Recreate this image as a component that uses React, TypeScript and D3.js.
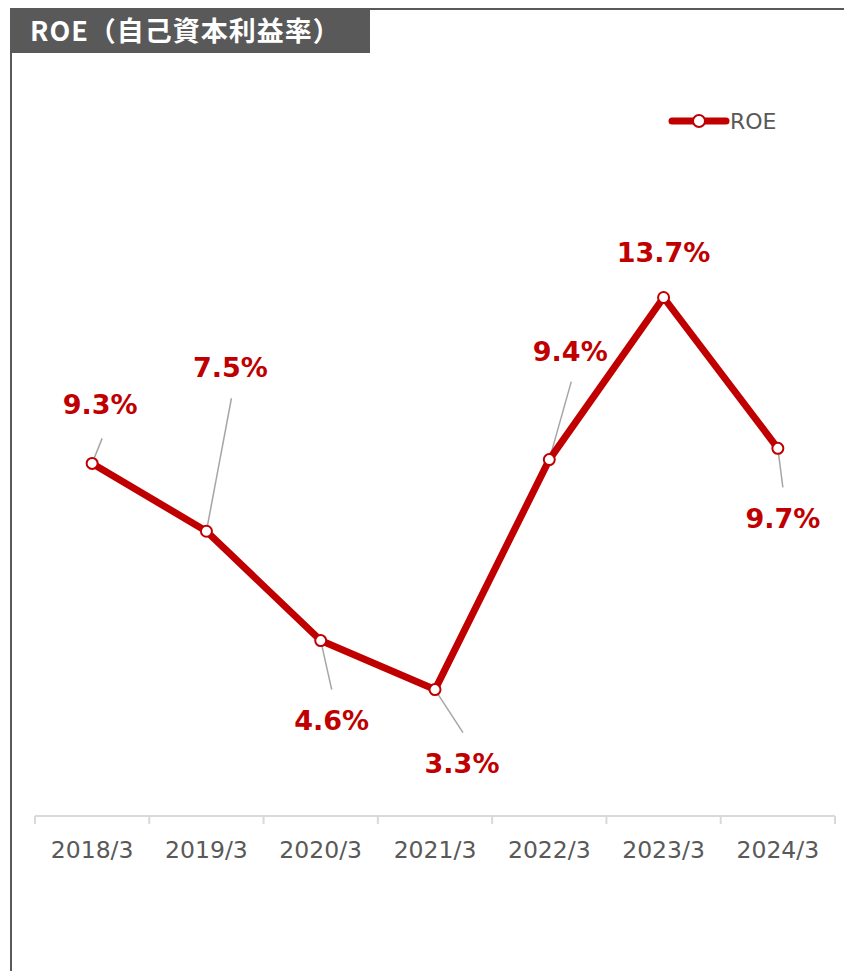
import React, { useEffect, useRef } from 'react';
import * as d3 from 'd3';

const categories = ['2018/3', '2019/3', '2020/3', '2021/3', '2022/3', '2023/3', '2024/3'];
const roeValues = [9.3, 7.5, 4.6, 3.3, 9.4, 13.7, 9.7];
const seriesName = 'ROE';
const chartTitle = 'ROE（自己資本利益率）';

// label placement relative to each point: [label dx, label dy, leader dx, leader dy]
const labelOffsets: [number, number, number | null, number | null][] = [
    [8, -49, 10, -25],
    [24, -154, 25, -133],
    [11, 89, 11, 49],
    [27, 83, 28, 43],
    [21, -99, 22, -78],
    [0, -36, null, null],
    [5, 80, 5, 39],
];

const RED = '#C00000';
const GRAY = '#595959';

const App: React.FC = () => {
    const svgRef = useRef<SVGSVGElement>(null);
    const width = 844;
    const height = 971;

    useEffect(() => {
        document.body.style.margin = '0';
        if (!svgRef.current) return;
        const svg = d3.select(svgRef.current);
        svg.selectAll('*').remove();

        // frame
        svg.append('line')
            .attr('x1', 10).attr('x2', width).attr('y1', 9).attr('y2', 9)
            .attr('stroke', GRAY).attr('stroke-width', 2);
        svg.append('line')
            .attr('x1', 11).attr('x2', 11).attr('y1', 9).attr('y2', height)
            .attr('stroke', GRAY).attr('stroke-width', 2);

        // title box
        svg.append('rect')
            .attr('x', 10).attr('y', 9).attr('width', 360).attr('height', 44)
            .attr('fill', GRAY);
        svg.append('text')
            .attr('x', 30).attr('y', 41)
            .attr('fill', 'white')
            .style('font-family', '"Noto Sans CJK JP", "Noto Sans", sans-serif')
            .style('font-weight', 'bold')
            .style('font-size', '27px')
            .style('letter-spacing', '1px')
            .text(chartTitle);

        const x = d3.scaleBand<string>()
            .domain(categories)
            .range([35, 835]);
        const y = d3.scaleLinear()
            .domain([0, 20])
            .range([814, 60]);

        const cx = (c: string) => (x(c) || 0) + x.bandwidth() / 2;
        const axisY = 816;

        // x axis
        const axis = svg.append('g');
        axis.append('line')
            .attr('x1', x.range()[0]).attr('x2', x.range()[1])
            .attr('y1', axisY).attr('y2', axisY)
            .attr('stroke', '#D9D9D9').attr('stroke-width', 2);
        const tickPos = categories.map(c => x(c) || 0).concat([x.range()[1]]);
        axis.selectAll('.tick')
            .data(tickPos)
            .enter()
            .append('line')
            .attr('x1', d => d).attr('x2', d => d)
            .attr('y1', axisY).attr('y2', axisY + 8)
            .attr('stroke', '#D9D9D9').attr('stroke-width', 2);
        axis.selectAll('.cat')
            .data(categories)
            .enter()
            .append('text')
            .attr('x', d => cx(d))
            .attr('y', 858)
            .attr('text-anchor', 'middle')
            .attr('fill', GRAY)
            .style('font-family', '"DejaVu Sans", sans-serif')
            .style('font-size', '23.5px')
            .text(d => d);

        // leader lines
        const lineData = categories.map((c, i) => ({ c, v: roeValues[i], o: labelOffsets[i] }));
        svg.selectAll('.leader')
            .data(lineData.filter(d => d.o[2] !== null))
            .enter()
            .append('line')
            .attr('x1', d => cx(d.c))
            .attr('y1', d => y(d.v))
            .attr('x2', d => cx(d.c) + (d.o[2] as number))
            .attr('y2', d => y(d.v) + (d.o[3] as number))
            .attr('stroke', '#A6A6A6')
            .attr('stroke-width', 1.5);

        // series line
        const line = d3.line<{ c: string; v: number }>()
            .x(d => cx(d.c))
            .y(d => y(d.v));
        svg.append('path')
            .datum(lineData)
            .attr('d', line)
            .attr('fill', 'none')
            .attr('stroke', RED)
            .attr('stroke-width', 7)
            .attr('stroke-linejoin', 'round')
            .attr('stroke-linecap', 'round');

        svg.selectAll('.marker')
            .data(lineData)
            .enter()
            .append('circle')
            .attr('cx', d => cx(d.c))
            .attr('cy', d => y(d.v))
            .attr('r', 5.5)
            .attr('fill', 'white')
            .attr('stroke', RED)
            .attr('stroke-width', 2);

        // data labels
        svg.selectAll('.label')
            .data(lineData)
            .enter()
            .append('text')
            .attr('x', d => cx(d.c) + d.o[0])
            .attr('y', d => y(d.v) + d.o[1])
            .attr('text-anchor', 'middle')
            .attr('fill', RED)
            .style('font-family', '"DejaVu Sans", sans-serif')
            .style('font-weight', 'bold')
            .style('font-size', '27px')
            .text(d => d.v.toFixed(1) + '%');

        // legend
        const legend = svg.append('g').attr('transform', 'translate(670,121)');
        legend.append('line')
            .attr('x1', 2).attr('x2', 56).attr('y1', 0).attr('y2', 0)
            .attr('stroke', RED).attr('stroke-width', 7).attr('stroke-linecap', 'round');
        legend.append('circle')
            .attr('cx', 29).attr('cy', 0).attr('r', 6)
            .attr('fill', 'white').attr('stroke', RED).attr('stroke-width', 2);
        legend.append('text')
            .attr('x', 60).attr('y', 8)
            .attr('fill', GRAY)
            .style('font-family', '"DejaVu Sans", sans-serif')
            .style('font-size', '22px')
            .text(seriesName);
    }, []);

    return <svg ref={svgRef} width={width} height={height} style={{ display: 'block' }}></svg>;
};

export default App;
